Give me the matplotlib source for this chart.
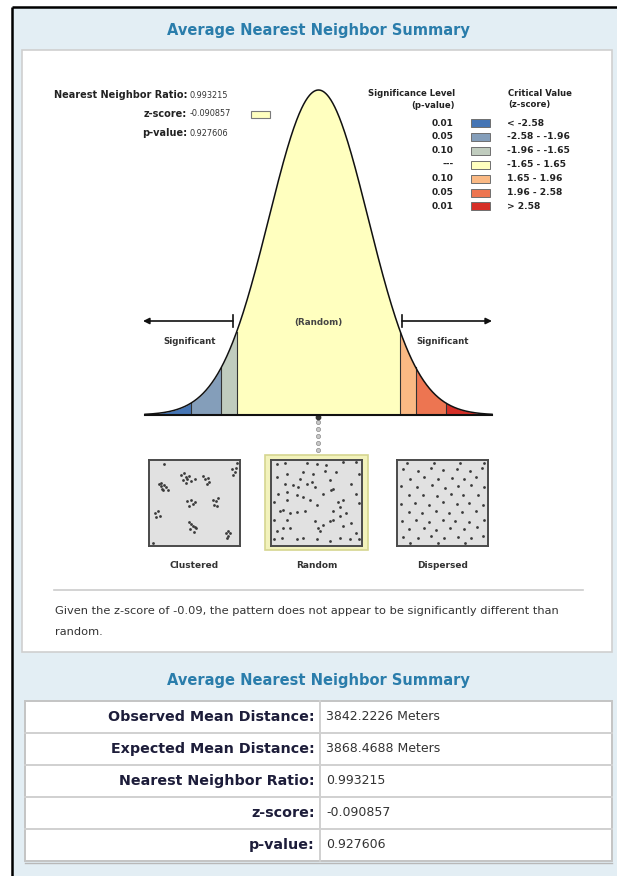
import matplotlib

matplotlib.use("Agg")
import matplotlib.pyplot as plt
import numpy as np
from matplotlib.patches import Rectangle

W, H = 617, 876

TITLE = "Average Nearest Neighbor Summary"
STAT_LABELS = ["Nearest Neighbor Ratio:", "z-score:", "p-value:"]
STAT_VALUES = ["0.993215", "-0.090857", "0.927606"]

# significance classes, left tail -> right tail
Z_EDGES = [-3.5, -2.58, -1.96, -1.65, 1.65, 1.96, 2.58, 3.5]
CLASS_COLORS = ["#4575b5", "#849eba", "#c0ccbe", "#ffffbf",
                "#fab984", "#ed7551", "#d62f27"]
P_LEVELS = ["0.01", "0.05", "0.10", "---", "0.10", "0.05", "0.01"]
Z_RANGES = ["< -2.58", "-2.58 - -1.96", "-1.96 - -1.65", "-1.65 - 1.65",
            "1.65 - 1.96", "1.96 - 2.58", "> 2.58"]

PATTERN_NAMES = ["Clustered", "Random", "Dispersed"]
CLUSTERED_X = [10, 12, 14, 16, 15, 18, 13, 20, 35, 38, 40, 42, 37, 44, 46, 41, 50,
               60, 62, 65, 66, 64, 92, 95, 93, 96, 42, 46, 48, 44, 50, 71, 74, 76,
               75, 72, 6, 9, 11, 7, 44, 46, 48, 50, 45, 52, 49, 85, 88, 87, 90, 86,
               16, 3, 98]
CLUSTERED_Y = [28, 30, 33, 29, 35, 31, 26, 34, 17, 15, 19, 22, 23, 18, 24, 26, 22,
               18, 22, 20, 25, 27, 10, 13, 17, 8, 48, 47, 51, 53, 49, 46, 48, 44,
               53, 52, 62, 60, 65, 67, 72, 75, 77, 79, 81, 80, 84, 85, 83, 89, 86, 91,
               4, 97, 2]
RANDOM_X = [5.6, 14.8, 38.9, 50, 61, 79.6, 94.4, 5.6, 16.7, 31.5, 35.2, 46.3, 59.3,
            72.2, 98.1, 14.8, 24, 29.6, 38.9, 44.4, 48.1, 64.8, 66.7, 88.9, 7.4,
            16.7, 27.8, 35.2, 57.4, 68.5, 94.4, 1.9, 16.7, 42.6, 50, 74, 79.6, 76,
            98.1, 9.3, 13, 20.4, 27.8, 37, 68.5, 76, 83.3, 1.9, 16.7, 48.1, 51.9,
            57.4, 64.8, 68.5, 88.9, 5.6, 13, 20.4, 53.7, 79.6, 94.4, 1.9, 11, 27.8,
            35.2, 50, 64.8, 76, 87, 98.1]
RANDOM_Y = [3.9, 3.1, 3.1, 3.9, 4.7, 1.9, 1.9, 19.4, 15.5, 21.3, 13.6, 15.5, 11.6,
            13.6, 15.5, 27, 29, 31, 27, 25.2, 31, 23.3, 34.9, 27, 38.8, 36.8, 40.7,
            42.6, 38.8, 33, 38.8, 48.4, 46.5, 46.5, 52.3, 48.4, 46.5, 54.3, 50.4,
            60, 58, 62, 61.2, 60, 60, 65.9, 62, 69.8, 69.8, 71.7, 79.5, 75.6, 71.7,
            69.8, 73.6, 83.3, 79.5, 79.5, 83.3, 77.5, 85.3, 93, 91, 93, 91, 93, 95,
            91, 93, 93]
DISPERSED_X = [10, 40, 70, 97,
               6, 22, 37, 51, 66, 81, 94,
               14, 29, 45, 61, 74, 88,
               4, 21, 38, 53, 67, 82, 97,
               12, 28, 44, 59, 73, 90,
               4, 19, 35, 50, 66, 80, 95,
               12, 27, 43, 57, 72, 88,
               5, 20, 35, 51, 64, 80, 96,
               13, 29, 43, 58, 74, 89,
               6, 22, 37, 52, 67, 82, 95,
               14, 45, 75]
DISPERSED_Y = [2, 3, 2, 3,
               10, 12, 9, 11, 10, 12, 9,
               21, 19, 22, 20, 21, 19,
               30, 31, 29, 32, 30, 29, 31,
               41, 40, 42, 39, 41, 40,
               51, 50, 52, 49, 51, 50, 52,
               61, 62, 60, 62, 61, 60,
               71, 70, 72, 70, 71, 72, 70,
               81, 80, 82, 80, 81, 79,
               90, 91, 89, 91, 90, 91, 89,
               98, 98, 98]

SUMMARY = ("Given the z-score of -0.09, the pattern does not appear to be "
           "significantly different than\nrandom.")

TABLE_LABELS = ["Observed Mean Distance:", "Expected Mean Distance:",
                "Nearest Neighbor Ratio:", "z-score:", "p-value:"]
TABLE_VALUES = ["3842.2226 Meters", "3868.4688 Meters", "0.993215",
                "-0.090857", "0.927606"]

BLUE_BG = "#e3eef4"
TITLE_C = "#2a7dab"
DARK = "#222222"


def px_axes(fig, x0, y0, x1, y1):
    return fig.add_axes([x0 / W, 1 - y1 / H, (x1 - x0) / W, (y1 - y0) / H])


def main():
    plt.rcParams["font.family"] = "DejaVu Sans"
    fig = plt.figure(figsize=(W / 100, H / 100), dpi=100)

    # pixel-space background layer
    bg = fig.add_axes([0, 0, 1, 1])
    bg.set_xlim(0, W)
    bg.set_ylim(H, 0)
    bg.axis("off")
    bg.add_patch(Rectangle((12, 7), W - 12, H - 7, fc=BLUE_BG, ec="none"))
    bg.plot([11.5, W], [6.8, 6.8], color="black", lw=1.8, solid_capstyle="butt")
    bg.plot([11.5, 11.5], [6.8, H], color="black", lw=1.8, solid_capstyle="butt")

    bg.text(318, 31, TITLE, ha="center", va="center", fontsize=10.5,
            fontweight="bold", color=TITLE_C)
    bg.add_patch(Rectangle((22, 50), 590, 602, fc="white", ec="#cfcfcf", lw=1.2))

    # stats block, top left
    for i, (lab, val) in enumerate(zip(STAT_LABELS, STAT_VALUES)):
        y = 95 + i * 19
        bg.text(187, y, lab, ha="right", va="center", fontsize=7.0,
                fontweight="bold", color=DARK)
        bg.text(190, y, val, ha="left", va="center", fontsize=5.9, color="#333333")
    bg.add_patch(Rectangle((251, 111), 19, 7, fc=CLASS_COLORS[3], ec="#7a7a7a", lw=0.8))

    # legend, top right
    bg.text(455, 93, "Significance Level", ha="right", va="center", fontsize=6.1,
            fontweight="bold", color=DARK)
    bg.text(455, 105, "(p-value)", ha="right", va="center", fontsize=6.1,
            fontweight="bold", color=DARK)
    bg.text(508, 93, "Critical Value", ha="left", va="center", fontsize=6.1,
            fontweight="bold", color=DARK)
    bg.text(508, 105, "(z-score)", ha="left", va="center", fontsize=6.1,
            fontweight="bold", color=DARK)
    for i, (p, zr, c) in enumerate(zip(P_LEVELS, Z_RANGES, CLASS_COLORS)):
        y = 123 + i * 13.9
        bg.text(454, y, p, ha="right", va="center", fontsize=6.5,
                fontweight="bold", color=DARK)
        bg.add_patch(Rectangle((471, y - 4), 19, 8, fc=c, ec="#6f6f6f", lw=0.7))
        bg.text(507, y, zr, ha="left", va="center", fontsize=6.6,
                fontweight="bold", color=DARK)

    # significance arrows
    for xb, xt in [(233, 143), (402, 492)]:
        bg.annotate("", xy=(xt, 321), xytext=(xb, 321),
                    arrowprops=dict(arrowstyle="-|>", color="#111111", lw=1.2,
                                    mutation_scale=9, shrinkA=0, shrinkB=0))
        bg.plot([xb, xb], [315, 327], color="#111111", lw=1.2)
    bg.text(190, 342, "Significant", ha="center", va="center", fontsize=6.2,
            fontweight="bold", color="#333333")
    bg.text(443, 342, "Significant", ha="center", va="center", fontsize=6.2,
            fontweight="bold", color="#333333")

    # dotted connector from the curve to the random pattern
    dots_y = [422, 429, 436, 443, 450]
    bg.scatter([318] * len(dots_y), dots_y, s=9, c="#c8c8c8",
               edgecolors="#8a8a8a", linewidths=0.5, zorder=3)
    bg.scatter([318], [417], s=10, c="#333333", zorder=3)

    # highlight frame round the random pattern
    bg.add_patch(Rectangle((265, 455), 103, 95, fc="#f2f2bc", ec="#d6d690", lw=1.2))

    # normal curve, split into significance classes
    ax = px_axes(fig, 145, 90, 492, 415)
    z = np.linspace(Z_EDGES[0], Z_EDGES[-1], 701)
    pdf = np.exp(-z ** 2 / 2) / np.sqrt(2 * np.pi)
    for lo, hi, c in zip(Z_EDGES[:-1], Z_EDGES[1:], CLASS_COLORS):
        m = (z >= lo - 1e-9) & (z <= hi + 1e-9)
        ax.fill_between(z[m], 0, pdf[m], color=c, lw=0)
    for e in Z_EDGES[1:-1]:
        ax.plot([e, e], [0, np.exp(-e ** 2 / 2) / np.sqrt(2 * np.pi)],
                color="#333333", lw=0.8)
    ax.plot(z, pdf, color="#111111", lw=1.1, clip_on=False)
    ax.plot([Z_EDGES[0], Z_EDGES[-1]], [0, 0], color="#111111", lw=1.5,
            clip_on=False)
    ax.set_xlim(Z_EDGES[0], Z_EDGES[-1])
    ax.set_ylim(0, pdf.max())
    ax.axis("off")
    ax.text(0.5, (415 - 323) / 325, "(Random)", transform=ax.transAxes,
            ha="center", va="center", fontsize=6.3, fontweight="bold",
            color="#444444")

    # example point patterns
    boxes = [(149, 240), (271, 362), (397, 488)]
    patterns = [(CLUSTERED_X, CLUSTERED_Y), (RANDOM_X, RANDOM_Y),
                (DISPERSED_X, DISPERSED_Y)]
    for (x0, x1), (px, py), name in zip(boxes, patterns, PATTERN_NAMES):
        pa = px_axes(fig, x0, 460, x1, 546)
        pa.set_facecolor("#e1e1e1")
        pa.scatter(px, py, s=4, c="#3a3a3a", lw=0)
        pa.set_xlim(-1, 101)
        pa.set_ylim(101, -1)
        pa.set_xticks([])
        pa.set_yticks([])
        for s in pa.spines.values():
            s.set_color("#4a4a4a")
            s.set_linewidth(1.4)
        bg.text((x0 + x1) / 2, 566, name, ha="center", va="center", fontsize=6.5,
                fontweight="bold", color="#333333")

    # interpretation sentence
    bg.plot([54, 583], [590, 590], color="#cccccc", lw=1.2)
    bg.text(55, 611, SUMMARY.split("\n")[0], ha="left", va="center", fontsize=8.2,
            color="#333333")
    bg.text(55, 632, SUMMARY.split("\n")[1], ha="left", va="center", fontsize=8.2,
            color="#333333")

    # summary table
    bg.text(318, 680, TITLE, ha="center", va="center", fontsize=10.5,
            fontweight="bold", color=TITLE_C)
    top, rh = 701, 32
    bg.add_patch(Rectangle((25, top), 587, rh * len(TABLE_LABELS), fc="white",
                           ec="#c4c4c4", lw=1.4))
    for i, (lab, val) in enumerate(zip(TABLE_LABELS, TABLE_VALUES)):
        y = top + i * rh
        if i:
            bg.plot([25, 612], [y, y], color="#d0d0d0", lw=1.4)
        bg.text(315, y + rh / 2, lab, ha="right", va="center", fontsize=10.3,
                fontweight="bold", color="#1d1d3a")
        bg.text(326, y + rh / 2, val, ha="left", va="center", fontsize=9.0,
                color="#333333")
    bg.plot([320, 320], [top, top + rh * len(TABLE_LABELS)], color="#d0d0d0",
            lw=1.4)
    bg.plot([25, 612], [top + rh * 5 + 1.5, top + rh * 5 + 1.5], color="#b8b8b8",
            lw=1.0)

    fig.savefig("out.png", dpi=100)


if __name__ == "__main__":
    main()
